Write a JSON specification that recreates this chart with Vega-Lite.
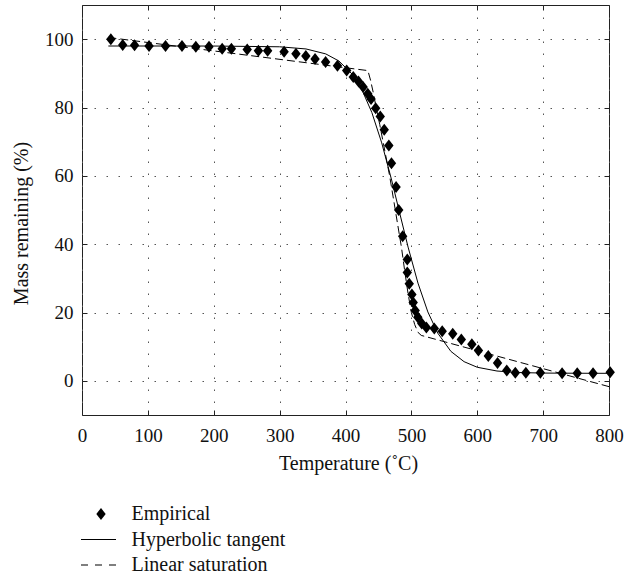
{
  "$schema": "https://vega.github.io/schema/vega-lite/v6.json",
  "width": 527,
  "height": 410,
  "autosize": "none",
  "padding": {"left": 82, "top": 5, "right": 16, "bottom": 165},
  "background": "white",
  "config": {
    "view": {"stroke": "#222", "strokeWidth": 1},
    "font": "Liberation Serif",
    "axis": {
      "labelFont": "Liberation Serif",
      "labelFontSize": 19,
      "labelColor": "#111",
      "titleFont": "Liberation Serif",
      "titleFontSize": 20,
      "titleFontWeight": "normal",
      "titleColor": "#111",
      "domain": false,
      "tickColor": "#222",
      "tickSize": -5,
      "tickWidth": 1,
      "gridColor": "#555",
      "gridDash": [1.5, 10.5],
      "gridWidth": 1,
      "gridOpacity": 1
    }
  },
  "datasets": {
    "emp": [
      {"series": "Empirical", "x": 40, "y": 100}, {"series": "Empirical", "x": 58, "y": 98.3},
      {"series": "Empirical", "x": 76, "y": 98.2}, {"series": "Empirical", "x": 98, "y": 98},
      {"series": "Empirical", "x": 123, "y": 98}, {"series": "Empirical", "x": 148, "y": 98},
      {"series": "Empirical", "x": 169, "y": 97.8}, {"series": "Empirical", "x": 189, "y": 97.8},
      {"series": "Empirical", "x": 209, "y": 97.2}, {"series": "Empirical", "x": 223, "y": 97.2},
      {"series": "Empirical", "x": 247, "y": 97}, {"series": "Empirical", "x": 264, "y": 96.6},
      {"series": "Empirical", "x": 278, "y": 96.6}, {"series": "Empirical", "x": 303, "y": 96.3},
      {"series": "Empirical", "x": 321, "y": 95.7}, {"series": "Empirical", "x": 336, "y": 95.1},
      {"series": "Empirical", "x": 350, "y": 94.2}, {"series": "Empirical", "x": 366, "y": 93.3},
      {"series": "Empirical", "x": 384, "y": 92.2}, {"series": "Empirical", "x": 398, "y": 90.8},
      {"series": "Empirical", "x": 408, "y": 88.9}, {"series": "Empirical", "x": 416, "y": 87.6},
      {"series": "Empirical", "x": 423, "y": 86}, {"series": "Empirical", "x": 430, "y": 84},
      {"series": "Empirical", "x": 435, "y": 82.5}, {"series": "Empirical", "x": 442, "y": 79.8},
      {"series": "Empirical", "x": 449, "y": 77.4}, {"series": "Empirical", "x": 455, "y": 73.5},
      {"series": "Empirical", "x": 462, "y": 68.9}, {"series": "Empirical", "x": 466, "y": 63.7},
      {"series": "Empirical", "x": 473, "y": 56.7}, {"series": "Empirical", "x": 477, "y": 50},
      {"series": "Empirical", "x": 483, "y": 42.3}, {"series": "Empirical", "x": 490, "y": 35.5},
      {"series": "Empirical", "x": 490, "y": 31.7}, {"series": "Empirical", "x": 493, "y": 28.4},
      {"series": "Empirical", "x": 497, "y": 25.3}, {"series": "Empirical", "x": 499, "y": 22.9},
      {"series": "Empirical", "x": 502, "y": 20.6}, {"series": "Empirical", "x": 506, "y": 18.6},
      {"series": "Empirical", "x": 512, "y": 16.8}, {"series": "Empirical", "x": 519, "y": 15.6},
      {"series": "Empirical", "x": 531, "y": 15.3}, {"series": "Empirical", "x": 543, "y": 14.5},
      {"series": "Empirical", "x": 559, "y": 13.8}, {"series": "Empirical", "x": 572, "y": 12.1},
      {"series": "Empirical", "x": 588, "y": 10.7}, {"series": "Empirical", "x": 598, "y": 8.9},
      {"series": "Empirical", "x": 613, "y": 7.3}, {"series": "Empirical", "x": 627, "y": 5.2},
      {"series": "Empirical", "x": 641, "y": 3}, {"series": "Empirical", "x": 654, "y": 2.4},
      {"series": "Empirical", "x": 670, "y": 2.4}, {"series": "Empirical", "x": 692, "y": 2.4},
      {"series": "Empirical", "x": 725, "y": 2.2}, {"series": "Empirical", "x": 748, "y": 2.2},
      {"series": "Empirical", "x": 772, "y": 2.2}, {"series": "Empirical", "x": 798, "y": 2.5}
    ],
    "tanh": [
      {"x": 40, "y": 98.0}, {"x": 100, "y": 98.0}, {"x": 200, "y": 97.99}, {"x": 300, "y": 97.77},
      {"x": 340, "y": 97.14}, {"x": 370, "y": 95.69}, {"x": 390, "y": 93.61}, {"x": 410, "y": 89.77},
      {"x": 425, "y": 85.16}, {"x": 440, "y": 78.53}, {"x": 455, "y": 69.64}, {"x": 470, "y": 58.78},
      {"x": 481, "y": 50.1}, {"x": 495, "y": 39.14}, {"x": 510, "y": 28.61}, {"x": 525, "y": 20.17},
      {"x": 540, "y": 13.97}, {"x": 560, "y": 8.62}, {"x": 580, "y": 5.61}, {"x": 600, "y": 3.97},
      {"x": 630, "y": 2.87}, {"x": 660, "y": 2.44}, {"x": 700, "y": 2.27}, {"x": 750, "y": 2.22},
      {"x": 800, "y": 2.2}
    ],
    "lin": [
      {"x": 40, "y": 100.5}, {"x": 434, "y": 90.8}, {"x": 438, "y": 88}, {"x": 442, "y": 84.5},
      {"x": 446, "y": 80.5}, {"x": 452, "y": 75}, {"x": 460, "y": 67}, {"x": 467, "y": 60},
      {"x": 473, "y": 53}, {"x": 479, "y": 46}, {"x": 485, "y": 39}, {"x": 490, "y": 32},
      {"x": 495, "y": 25.5}, {"x": 500, "y": 20}, {"x": 505, "y": 16.5}, {"x": 510, "y": 14.2},
      {"x": 515, "y": 13.3}, {"x": 800, "y": -1.7}
    ]
  },
  "layer": [
    {
      "data": {"name": "tanh"},
      "mark": {"type": "line", "color": "black", "strokeWidth": 1},
      "encoding": {
        "x": {
          "field": "x", "type": "quantitative",
          "scale": {"domain": [0, 800], "nice": false},
          "axis": {
            "values": [0, 100, 200, 300, 400, 500, 600, 700, 800],
            "labelFlush": false, "labelPadding": 16,
            "title": "Temperature (˚C)",
            "titleX": 266, "titleY": 54, "titleBaseline": "alphabetic", "titleAlign": "center"
          }
        },
        "y": {
          "field": "y", "type": "quantitative",
          "scale": {"domain": [-10, 110], "nice": false},
          "axis": {
            "values": [0, 20, 40, 60, 80, 100],
            "labelPadding": 14,
            "title": "Mass remaining (%)",
            "titleAngle": -90, "titleX": -55, "titleY": 218, "titleBaseline": "alphabetic", "titleAlign": "center"
          }
        }
      }
    },
    {
      "data": {"name": "lin"},
      "mark": {"type": "line", "color": "black", "strokeWidth": 1, "strokeDash": [8, 4]},
      "encoding": {
        "x": {
          "field": "x", "type": "quantitative",
          "axis": {"orient": "top", "labels": false, "title": null, "grid": false,
                   "values": [0, 100, 200, 300, 400, 500, 600, 700, 800]}
        },
        "y": {
          "field": "y", "type": "quantitative",
          "axis": {"orient": "right", "labels": false, "title": null, "grid": false,
                   "values": [0, 20, 40, 60, 80, 100]}
        }
      }
    },
    {
      "data": {"name": "emp"},
      "mark": {"type": "point", "filled": true, "color": "black", "size": 400, "opacity": 1},
      "encoding": {
        "x": {"field": "x", "type": "quantitative", "axis": null},
        "y": {"field": "y", "type": "quantitative", "axis": null},
        "shape": {
          "field": "series", "type": "nominal",
          "scale": {
            "domain": ["Empirical", "Hyperbolic tangent", "Linear saturation"],
            "range": [
              "M0.25,-0.6L0.72,0L0.25,0.6L-0.22,0Z",
              "M-1.75,-0.05L1.75,-0.05L1.75,0.05L-1.75,0.05Z",
              "M-1.75,-0.05L-1.05,-0.05L-1.05,0.05L-1.75,0.05ZM-0.35,-0.05L0.35,-0.05L0.35,0.05L-0.35,0.05ZM1.05,-0.05L1.75,-0.05L1.75,0.05L1.05,0.05Z"
            ]
          },
          "legend": {
            "title": null,
            "orient": "none",
            "legendX": 5.5,
            "legendY": 498,
            "padding": 0,
            "symbolSize": 400,
            "symbolFillColor": "black",
            "symbolOpacity": 1,
            "labelFont": "Liberation Serif",
            "labelFontSize": 20,
            "labelColor": "#111",
            "labelOffset": 22,
            "rowPadding": 4.5,
            "encode": {
              "symbols": {
                "update": {
                  "fill": {"value": "black"},
                  "fillOpacity": {"value": 1},
                  "opacity": {"value": 1}
                }
              }
            }
          }
        }
      }
    }
  ],
  "resolve": {"axis": {"x": "independent", "y": "independent"}}
}
